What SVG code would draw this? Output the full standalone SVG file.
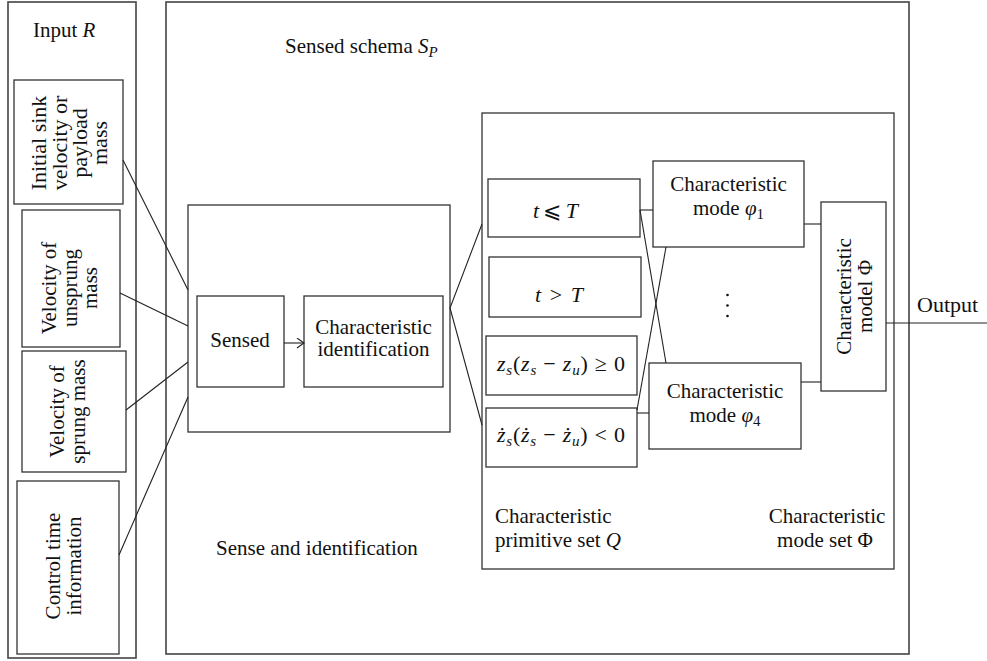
<svg xmlns="http://www.w3.org/2000/svg" width="987" height="661" viewBox="0 0 987 661">
<style>
rect{fill:none;stroke:#333;stroke-width:1.3}
.outer{stroke:#444;stroke-width:1.6}
line,polyline{stroke:#222;stroke-width:1.1;fill:none}
text{font-family:"Liberation Serif","DejaVu Serif",serif;font-size:21px;fill:#111}
.c{text-anchor:middle}
.i{font-style:italic}
.m{font-size:22px}
.sub{font-size:15px}
</style>
<defs>
<marker id="arr" markerUnits="userSpaceOnUse" markerWidth="12" markerHeight="12" refX="8" refY="5" orient="auto">
<polyline points="1,0 8,5 1,10" style="stroke:#222;stroke-width:1.1;fill:none"/>
</marker>
</defs>
<rect width="987" height="661" style="fill:#fff;stroke:none"/>

<g id="input">
<rect class="outer" x="8" y="2" width="128" height="656"/>
<text x="33" y="37">Input <tspan class="i">R</tspan></text>
</g>
<g id="in1">
<rect x="14" y="80" width="109" height="124"/>
<text class="c" transform="translate(68.5,143) rotate(-90)" style="font-size:22px"><tspan x="0" y="-23">Initial sink</tspan><tspan x="0" y="-2">velocity or</tspan><tspan x="0" y="18">payload</tspan><tspan x="0" y="38">mass</tspan></text>
</g>
<g id="in2">
<rect x="22" y="210" width="98" height="137"/>
<text class="c" transform="translate(71,288) rotate(-90)"><tspan x="0" y="-15">Velocity of</tspan><tspan x="0" y="6">unsprung</tspan><tspan x="0" y="26">mass</tspan></text>
</g>
<g id="in3">
<rect x="22" y="351" width="104" height="121"/>
<text class="c" transform="translate(74,411.5) rotate(-90)"><tspan x="0" y="-10">Velocity of</tspan><tspan x="0" y="11">sprung mass</tspan></text>
</g>
<g id="in4">
<rect x="17" y="481" width="102" height="173"/>
<text class="c" transform="translate(68,566) rotate(-90)"><tspan x="0" y="-8">Control time</tspan><tspan x="0" y="13">information</tspan></text>
</g>

<g id="schema">
<rect class="outer" x="166" y="2" width="743" height="652"/>
<text x="285" y="53">Sensed schema <tspan class="i">S</tspan><tspan class="i sub" dy="4">P</tspan></text>
</g>
<g id="sense">
<rect x="188" y="205" width="262" height="227"/>
<text x="216" y="555">Sense and identification</text>
</g>
<g id="sensed">
<rect x="197" y="296" width="87" height="91"/>
<text class="c" x="240" y="347">Sensed</text>
</g>
<g id="charid">
<rect x="304" y="296" width="139" height="91"/>
<text class="c" x="373.5" y="334">Characteristic</text>
<text class="c" x="373.5" y="356">identification</text>
</g>

<g id="sets">
<rect x="482" y="113" width="412" height="456"/>
<text x="495" y="523">Characteristic</text>
<text x="495" y="547">primitive set <tspan class="i">Q</tspan></text>
<text class="c" x="827" y="523">Characteristic</text>
<text class="c" x="825" y="547">mode set Φ</text>
</g>
<g id="q1">
<rect x="488" y="179" width="152" height="58"/>
<text class="m" x="533" y="218" textLength="45" lengthAdjust="spacing"><tspan class="i">t</tspan> ⩽ <tspan class="i">T</tspan></text>
</g>
<g id="q2">
<rect x="489" y="257" width="152" height="60"/>
<text class="m" x="535" y="302" textLength="48" lengthAdjust="spacing"><tspan class="i">t</tspan> &gt; <tspan class="i">T</tspan></text>
</g>
<g id="q3">
<rect x="486" y="336" width="151" height="59"/>
<text class="m" x="497" y="371" textLength="128" lengthAdjust="spacing"><tspan class="i">z</tspan><tspan class="i sub" dy="4">s</tspan><tspan dy="-4">(</tspan><tspan class="i">z</tspan><tspan class="i sub" dy="4">s</tspan><tspan dy="-4"> − </tspan><tspan class="i">z</tspan><tspan class="i sub" dy="4">u</tspan><tspan dy="-4">) ≥ 0</tspan></text>
</g>
<g id="q4">
<rect x="486" y="408" width="151" height="59"/>
<text class="m" x="497" y="442" textLength="128" lengthAdjust="spacing"><tspan class="i">ż</tspan><tspan class="i sub" dy="4">s</tspan><tspan dy="-4">(</tspan><tspan class="i">ż</tspan><tspan class="i sub" dy="4">s</tspan><tspan dy="-4"> − </tspan><tspan class="i">ż</tspan><tspan class="i sub" dy="4">u</tspan><tspan dy="-4">) &lt; 0</tspan></text>
</g>
<g id="m1">
<rect x="653" y="161" width="151" height="86"/>
<text class="c" x="728.5" y="191">Characteristic</text>
<text class="c" x="728.5" y="215">mode <tspan class="i">φ</tspan><tspan class="sub" dy="4">1</tspan></text>
</g>
<g id="dots">
<circle cx="727.5" cy="295" r="1.3" fill="#111"/>
<circle cx="727.5" cy="305.5" r="1.3" fill="#111"/>
<circle cx="727.5" cy="316" r="1.3" fill="#111"/>
</g>
<g id="m4">
<rect x="649" y="363" width="152" height="86"/>
<text class="c" x="725" y="398">Characteristic</text>
<text class="c" x="725" y="422">mode <tspan class="i">φ</tspan><tspan class="sub" dy="4">4</tspan></text>
</g>
<g id="model">
<rect x="821" y="202" width="65" height="189"/>
<text class="c" transform="translate(853.5,296.5) rotate(-90)"><tspan x="0" y="-3">Characteristic</tspan><tspan x="0" y="18">model Φ</tspan></text>
</g>
<g id="output">
<text x="917" y="312" style="font-size:22px">Output</text>
</g>

<g id="connectors">
<line x1="123" y1="160" x2="188" y2="290"/>
<line x1="120" y1="293" x2="188" y2="326"/>
<line x1="126" y1="410" x2="188" y2="362"/>
<line x1="119" y1="555" x2="188" y2="397"/>
<line x1="284" y1="343" x2="304" y2="343" marker-end="url(#arr)"/>
<polyline points="482,224 450,308 482,425"/>
<line x1="640" y1="210" x2="653" y2="210"/>
<line x1="637" y1="413" x2="649" y2="413"/>
<line x1="640" y1="210" x2="666" y2="363"/>
<line x1="637" y1="410" x2="666" y2="247"/>
<line x1="804" y1="224" x2="821" y2="224"/>
<line x1="801" y1="382" x2="821" y2="382"/>
<line x1="886" y1="323" x2="987" y2="323"/>
</g>
</svg>
